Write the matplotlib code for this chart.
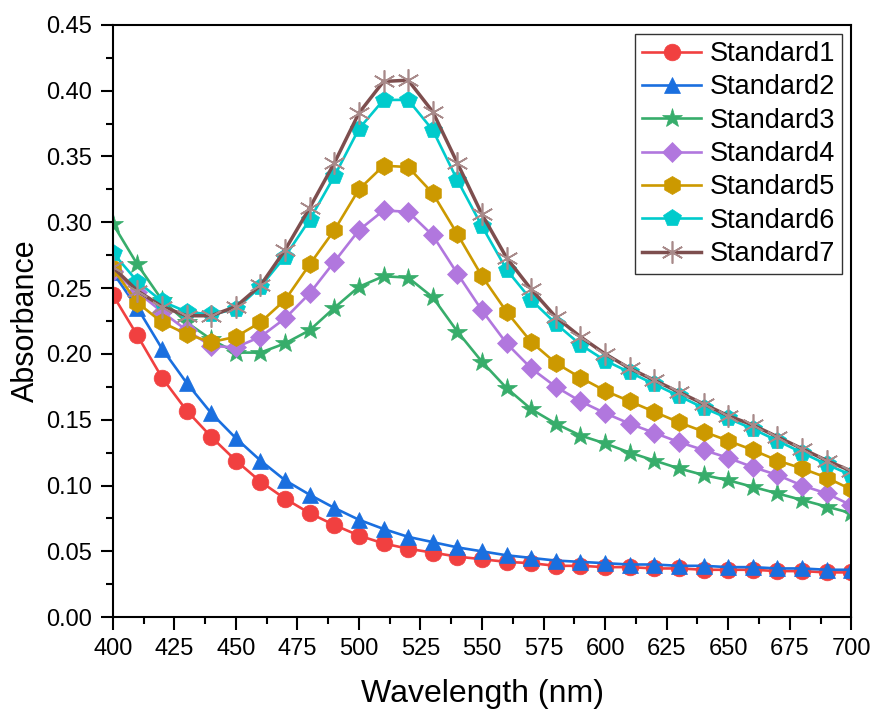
import numpy as np
import matplotlib
matplotlib.use("Agg")
import matplotlib.pyplot as plt
from matplotlib.ticker import MultipleLocator

plt.rcParams['font.family'] = ['Liberation Sans', 'DejaVu Sans']

wavelength = np.arange(400, 701, 10)

std1 = [0.245, 0.214, 0.182, 0.157, 0.137, 0.119, 0.103, 0.090, 0.079, 0.070,
        0.062, 0.056, 0.052, 0.049, 0.046, 0.044, 0.042, 0.041, 0.039, 0.039,
        0.038, 0.038, 0.037, 0.037, 0.036, 0.036, 0.036, 0.035, 0.035, 0.034, 0.034]
std2 = [0.262, 0.235, 0.204, 0.178, 0.155, 0.136, 0.119, 0.104, 0.093, 0.083,
        0.074, 0.067, 0.061, 0.057, 0.053, 0.050, 0.047, 0.045, 0.043, 0.042,
        0.041, 0.040, 0.040, 0.039, 0.039, 0.038, 0.038, 0.037, 0.037, 0.036, 0.036]
std3 = [0.299, 0.268, 0.241, 0.224, 0.211, 0.201, 0.201, 0.208, 0.218, 0.235,
        0.251, 0.259, 0.258, 0.243, 0.217, 0.194, 0.174, 0.158, 0.147, 0.138,
        0.132, 0.125, 0.119, 0.113, 0.108, 0.104, 0.099, 0.094, 0.089, 0.084, 0.079]
std4 = [0.263, 0.247, 0.232, 0.218, 0.206, 0.205, 0.213, 0.227, 0.246, 0.270,
        0.294, 0.309, 0.308, 0.290, 0.261, 0.233, 0.208, 0.189, 0.175, 0.164,
        0.155, 0.147, 0.140, 0.133, 0.127, 0.121, 0.114, 0.108, 0.100, 0.094, 0.085]
std5 = [0.265, 0.239, 0.224, 0.215, 0.209, 0.213, 0.224, 0.241, 0.268, 0.294,
        0.325, 0.343, 0.342, 0.322, 0.291, 0.259, 0.232, 0.209, 0.193, 0.182,
        0.172, 0.164, 0.156, 0.148, 0.141, 0.134, 0.127, 0.119, 0.113, 0.106, 0.097]
std6 = [0.277, 0.255, 0.240, 0.232, 0.230, 0.234, 0.251, 0.274, 0.302, 0.335,
        0.371, 0.393, 0.393, 0.370, 0.332, 0.297, 0.264, 0.241, 0.223, 0.207,
        0.195, 0.186, 0.177, 0.168, 0.159, 0.151, 0.143, 0.134, 0.125, 0.116, 0.108]
std7 = [0.266, 0.248, 0.236, 0.229, 0.229, 0.236, 0.252, 0.279, 0.311, 0.345,
        0.383, 0.407, 0.408, 0.384, 0.345, 0.306, 0.273, 0.249, 0.228, 0.213,
        0.200, 0.189, 0.180, 0.171, 0.162, 0.153, 0.146, 0.137, 0.128, 0.119, 0.111]

labels = ['Standard1', 'Standard2', 'Standard3', 'Standard4',
          'Standard5', 'Standard6', 'Standard7']
series = [std1, std2, std3, std4, std5, std6, std7]
colors = ['#F14040', '#1A6FDF', '#37AD6B', '#B177DE', '#CC9900', '#00CBCC', '#7D4E4E']
markers = ['o', '^', '*', 'D', 'h', 'p', (6, 2, 0)]
msizes = [12, 12, 15, 10.5, 13, 13, 16]

fig = plt.figure(figsize=(8.74, 7.11), dpi=100)
ax = fig.add_axes([0.129, 0.132, 0.845, 0.833])

for i, (y, lab, c, m, ms) in enumerate(zip(series, labels, colors, markers, msizes)):
    if i == 6:
        ax.plot(wavelength, y, color=c, lw=2.5, marker=m, ms=ms,
                mec='#A88A8A', mew=1.2, label=lab)
    else:
        ax.plot(wavelength, y, color=c, lw=1.9, marker=m, ms=ms,
                mec=c, mfc=c, mew=0.5, label=lab)

ax.set_xlim(400, 700)
ax.set_ylim(0, 0.45)
ax.xaxis.set_major_locator(MultipleLocator(25))
ax.xaxis.set_minor_locator(MultipleLocator(12.5))
ax.yaxis.set_major_locator(MultipleLocator(0.05))
ax.yaxis.set_minor_locator(MultipleLocator(0.025))
ax.yaxis.set_major_formatter(plt.FormatStrFormatter('%.2f'))

ax.tick_params(which='both', direction='out', width=1.5, labelsize=17,
               top=False, right=False)
ax.tick_params(which='major', length=9, pad=6)
ax.tick_params(which='minor', length=5)
for s in ax.spines.values():
    s.set_linewidth(1.5)

ax.set_xlabel('Wavelength (nm)', fontsize=23, labelpad=14)
ax.set_ylabel('Absorbance', fontsize=22, labelpad=4)

leg = ax.legend(loc='upper right', fontsize=19.5, frameon=True, fancybox=False,
                edgecolor='black', handlelength=2.2, labelspacing=0.27,
                borderpad=0.25, handletextpad=0.3, borderaxespad=0.35)
leg.get_frame().set_linewidth(1.0)

plt.savefig('out.png', dpi=100)
